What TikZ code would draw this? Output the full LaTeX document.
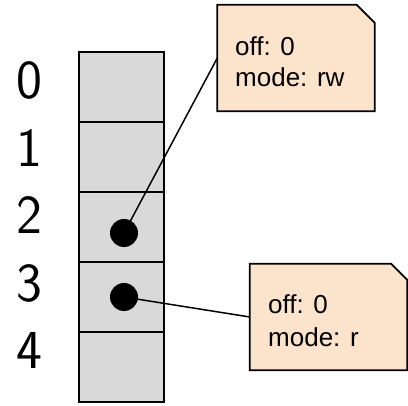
\documentclass[tikz,border=0pt]{standalone}
\usepackage{fontspec}
\newfontfamily\notefont{Liberation Sans}
\begin{document}
\begin{tikzpicture}[x=1pt,y=-1pt,
  cell/.style={fill=cellgray,minimum width=85pt,minimum height=70pt,inner sep=0pt,outer sep=0pt},
  cellrule/.style={draw=black,line width=2pt},
  index/.style={font=\sffamily\fontsize{55}{55}\selectfont,anchor=center,inner sep=0pt},
  ptr/.style={circle,fill=black,minimum size=28pt,inner sep=0pt},
  notebox/.style={minimum width=157pt,minimum height=106pt,inner sep=0pt},
  notepath/.style={draw=black,line width=1.8pt,fill=notefill},
  notetext/.style={font=\notefont\fontsize{26}{31}\selectfont,anchor=base west,inner sep=0pt},
  link/.style={line width=1.5pt,black}]
\definecolor{cellgray}{HTML}{D9D9D9}
\definecolor{notefill}{HTML}{FCE4CC}
\useasboundingbox (0,0) rectangle (408,406);

% descriptor table cells and their indices
\foreach \i in {0,...,4}{
  \node[cell] (c\i) at (121.5,{87+70*\i}) {};
  \node[index] (n\i) at (29.5,{80.5+67.5*\i}) {\i};
}
% cell borders, drawn after all fills so shared edges keep full width
\foreach \i in {0,...,4}{
  \draw[cellrule] (c\i.north west) rectangle (c\i.south east);
}

% file-table entries
\node[notebox] (b1) at (296,58) {};
\draw[notepath] (b1.south west) -- (b1.north west) -- ([xshift=-18pt]b1.north east)
  -- ([yshift=-18pt]b1.north east) -- (b1.south east) -- cycle;
\node[notetext] (t1a) at (235,56) {off: 0};
\node[notetext] (t1b) at (235,87) {mode: rw};

\node[notebox] (b2) at (328.5,317) {};
\draw[notepath] (b2.south west) -- (b2.north west) -- ([xshift=-16pt]b2.north east)
  -- ([yshift=-16pt]b2.north east) -- (b2.south east) -- cycle;
\node[notetext] (t2a) at (268,314) {off: 0};
\node[notetext] (t2b) at (268,347) {mode: r};

% pointers from descriptors to entries
\node[ptr] (d2) at (124,233) {};
\node[ptr] (d3) at (124,297) {};
\draw[link] (d2.center) -- (b1.west);
\draw[link] (d3.center) -- (b2.west);
\end{tikzpicture}
\end{document}
